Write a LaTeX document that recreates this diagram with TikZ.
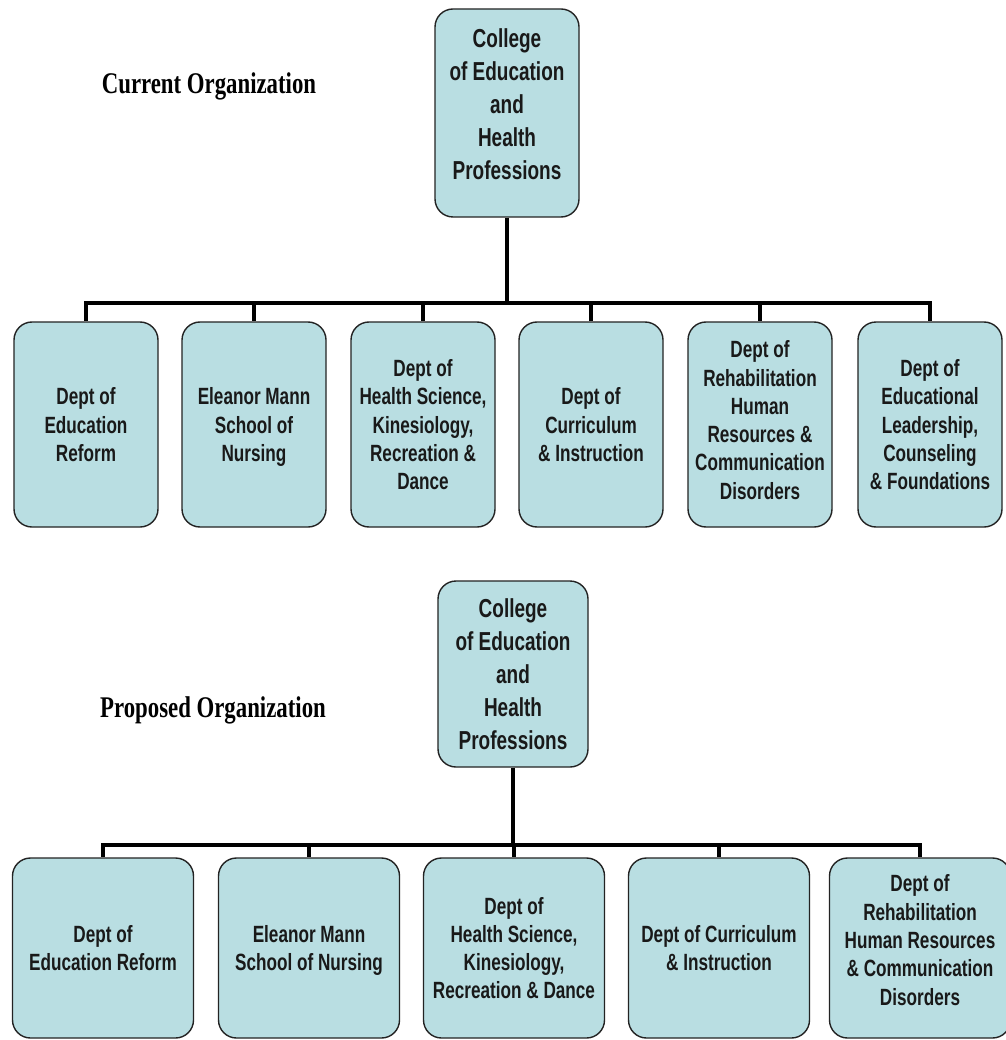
\documentclass[tikz,border=0pt]{standalone}
\usepackage{fontspec}
\newfontfamily\boxfont[FakeStretch=0.73]{Liberation Sans}
\newfontfamily\headfont[FakeStretch=0.76]{Liberation Serif}
\definecolor{boxfill}{RGB}{185,222,226}
\definecolor{boxline}{RGB}{35,35,35}
\begin{document}
\begin{tikzpicture}[x=1pt,y=-1pt,
  unitbox/.style={draw=boxline,fill=boxfill,line width=1.4pt,rounded corners=18pt,
    inner sep=0pt,align=center,text=black!90},
  topbox/.style={unitbox,minimum width=#1,
    font={\boxfont\bfseries\fontsize{26}{33}\selectfont}},
  deptA/.style={unitbox,minimum width=144pt,minimum height=205pt,
    font={\boxfont\bfseries\fontsize{23.5}{28.3}\selectfont}},
  deptB/.style={unitbox,minimum width=181pt,minimum height=180pt,
    font={\boxfont\bfseries\fontsize{23.5}{28.3}\selectfont}},
  heading/.style={font={\headfont\bfseries\fontsize{30}{34}\selectfont},inner sep=0pt},
  link/.style={draw=black,line width=3.1pt}]
\useasboundingbox (0,0) rectangle (1005,1040);
\fill[white] (0,0) rectangle (1005,1040);

% ---------- Current organization ----------
\node[heading] (curhead) at (209,86) {Current Organization};
\node[topbox=144pt,minimum height=208pt,text depth=18pt] (top1) at (507,113)
  {College\\of Education\\and\\Health\\Professions};

\node[deptA,text depth=-12pt] (c1) at (86,424.5) {Dept of\\Education\\Reform};
\node[deptA,text depth=-12pt] (c2) at (254,424.5) {Eleanor Mann\\School of\\Nursing};
\node[deptA,text depth=-12pt] (c3) at (423,424.5) {Dept of\\Health Science,\\Kinesiology,\\Recreation \&\\Dance};
\node[deptA,text depth=-12pt] (c4) at (591,424.5) {Dept of\\Curriculum\\\& Instruction};
\node[deptA,text depth=9pt] (c5) at (760,424.5) {Dept of\\Rehabilitation\\Human\\Resources \&\\Communication\\Disorders};
\node[deptA,text depth=-12pt] (c6) at (930,424.5) {Dept of\\Educational\\Leadership,\\Counseling\\\& Foundations};

\coordinate (bus1) at (507,303);
\draw[link] (top1.south) -- (bus1);
\foreach \n in {c1,c2,c3,c4,c5,c6}{
  \draw[link] (bus1) -| (\n.north);
}

% ---------- Proposed organization ----------
\node[heading] (prohead) at (213,710) {Proposed Organization};
\node[topbox=150pt,minimum height=186pt] (top2) at (513,674)
  {College\\of Education\\and\\Health\\Professions};

\node[deptB,text depth=-12pt] (p1) at (103,948) {Dept of\\Education Reform};
\node[deptB,text depth=-12pt] (p2) at (309,948) {Eleanor Mann\\School of Nursing};
\node[deptB,text depth=-12pt] (p3) at (514,948) {Dept of\\Health Science,\\Kinesiology,\\Recreation \& Dance};
\node[deptB,text depth=-12pt] (p4) at (719,948) {Dept of Curriculum\\\& Instruction};
\node[deptB,text depth=16pt] (p5) at (920,948) {Dept of\\Rehabilitation\\Human Resources\\\& Communication\\Disorders};

\coordinate (bus2) at (513,845);
\draw[link] (top2.south) -- (bus2);
\foreach \n in {p1,p2,p3,p4,p5}{
  \draw[link] (bus2) -| (\n.north);
}
\end{tikzpicture}
\end{document}
